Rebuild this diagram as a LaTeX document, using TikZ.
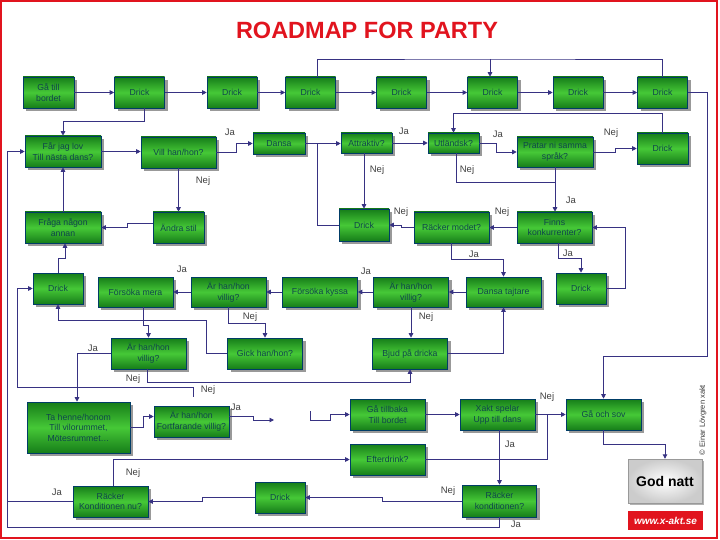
\documentclass[tikz,border=0pt]{standalone}
\usepackage{fontspec}
\setmainfont{Liberation Sans}
\usetikzlibrary{arrows.meta,shadows}
\definecolor{gdark}{RGB}{22,125,25}
\definecolor{glight}{RGB}{70,200,55}
\definecolor{btext}{RGB}{15,70,75}
\definecolor{conn}{RGB}{55,50,130}
\definecolor{tred}{RGB}{225,20,30}
\begin{document}
\begin{tikzpicture}[x=1pt,y=-1pt,
  box/.style={draw=black!60!green!60!blue, line width=0.6pt, top color=gdark, bottom color=gdark, middle color=glight,
    text=btext, font=\fontsize{8.7}{10.6}\selectfont, align=center, inner sep=1pt,
    drop shadow={shadow xshift=3pt, shadow yshift=-3pt, fill=black!40, opacity=1}},
  sA/.style={minimum width=50pt, minimum height=31pt},
  sB/.style={minimum width=75pt, minimum height=31pt},
  sC/.style={minimum width=51pt, minimum height=20pt},
  ln/.style={draw=conn, line width=0.9pt},
  arr/.style={ln, -{Triangle[length=4.5pt,width=4.5pt]}},
  lab/.style={font=\fontsize{9.5}{11}\selectfont, text=black!75, inner sep=0pt}]
\useasboundingbox (0,0) rectangle (720,540);
\draw[tred, line width=1.6pt] (1,1) rectangle (717,538);
\node[font=\fontsize{23.5}{26}\selectfont\bfseries, text=tred] (title) at (367,30.5) {ROADMAP FOR PARTY};

% row 1
\node[box,sA,minimum width=51pt] (g1) at (48.5,92.5) {Gå till\\bordet};
\node[box,sA] (d1) at (139.5,92.5) {Drick};
\node[box,sA] (d2) at (232,92.5) {Drick};
\node[box,sA] (d3) at (310.5,92.5) {Drick};
\node[box,sA] (d4) at (401.5,92.5) {Drick};
\node[box,sA] (d5) at (492.5,92.5) {Drick};
\node[box,sA] (d6) at (578,92.5) {Drick};
\node[box,sA] (d7) at (662.5,92.5) {Drick};
% row 2
\node[box,sB,minimum width=76pt] (fjl) at (63,151.5) {Får jag lov\\Till nästa dans?};
\node[box,sB] (vill) at (178.5,152.5) {Vill han/hon?};
\node[box,sC,minimum width=52pt,minimum height=21pt] (dansa) at (279,143.5) {Dansa};
\node[box,sC] (attr) at (366.5,143) {Attraktiv?};
\node[box,sC] (utl) at (453.5,143) {Utländsk?};
\node[box,sB,minimum width=76pt,minimum height=30pt] (prat) at (555,152) {Pratar ni samma\\språk?};
\node[box,sA,minimum width=51pt] (dr2) at (662.5,148.5) {Drick};
% row 3
\node[box,sB,minimum width=76pt] (fraga) at (63,227.5) {Fråga någon\\annan};
\node[box,sA,minimum width=51pt] (andra) at (178.5,227.5) {Ändra stil};
\node[box,sA,minimum height=32pt] (dr3) at (364,225) {Drick};
\node[box,sB] (racm) at (451.5,227.5) {Räcker modet?};
\node[box,sB] (finns) at (554.5,227.5) {Finns\\konkurrenter?};
% row 4
\node[box,sA] (dr4a) at (58,288.5) {Drick};
\node[box,sB,minimum height=30pt] (fmera) at (135.5,292) {Försöka mera};
\node[box,sB,minimum height=30pt] (villa) at (228.5,292) {Är han/hon\\villig?};
\node[box,sB,minimum height=30pt] (fkyssa) at (320,292) {Försöka kyssa};
\node[box,sB,minimum height=30pt] (villb) at (411,292) {Är han/hon\\villig?};
\node[box,sB,minimum height=30pt] (dtaj) at (503.5,292) {Dansa tajtare};
\node[box,sA] (dr4b) at (581,288.5) {Drick};
% row 5
\node[box,sB] (villc) at (148.5,353.5) {Är han/hon\\villig?};
\node[box,sB] (gick) at (265,353.5) {Gick han/hon?};
\node[box,sB] (bjud) at (410,353.5) {Bjud på dricka};
% row 6
\node[box,minimum width=103pt,minimum height=51pt] (ta) at (78.5,427.5) {Ta henne/honom\\Till vilorummet,\\Mötesrummet…};
\node[box,sB] (fort) at (191.5,421.5) {Är han/hon\\Fortfarande villig?};
\node[box,sB] (gat) at (387.5,414.5) {Gå tillbaka\\Till bordet};
\node[box,sB] (xakt) at (497.5,414.5) {Xakt spelar\\Upp till dans};
\node[box,sB] (sov) at (603.5,414.5) {Gå och sov};
\node[box,sB] (efter) at (387.5,459.5) {Efterdrink?};
% row 7
\node[box,sB] (rnu) at (110.5,501.5) {Räcker\\Konditionen nu?};
\node[box,sA] (dr7) at (280,497.5) {Drick};
\node[box,sB,minimum width=74pt,minimum height=32pt] (rkon) at (499.5,501) {Räcker\\konditionen?};
% god natt etc
\node[draw=gray!80, inner color=white, outer color=gray!40, minimum width=74pt, minimum height=44pt,
  font=\fontsize{14}{16}\selectfont\bfseries, drop shadow={shadow xshift=2pt, shadow yshift=-2pt, fill=black!30, opacity=1}] (gn) at (665,481) {God natt};
\node[fill=tred, minimum width=75pt, minimum height=19pt, text=white, font=\fontsize{10}{12}\selectfont\bfseries\itshape] (www) at (665.5,520.5) {www.x-akt.se};
\node[rotate=90, font=\fontsize{7.5}{9}\selectfont, text=black!80] (copy) at (703,420) {© Einar Lövgren xakt};

% connectors row 1
\draw[arr] (g1) -- (d1);
\draw[arr] (d1) -- (d2);
\draw[arr] (d2) -- (d3);
\draw[arr] (d3) -- (d4);
\draw[arr] (d4) -- (d5);
\draw[arr] (d5) -- (d6);
\draw[arr] (d6) -- (d7);
\coordinate (bus) at (490,59);
\draw[ln] ([xshift=6.5pt]d3.north) |- (bus) -| (d7.north);
\draw[arr] (bus) -- (bus |- d5.north);
\draw[arr] (d7.east) -| (707,356) -| (sov.north);
\draw[arr] ([xshift=5pt]d1.south) -- ++(0,13) -| (fjl.north);
% row 2
\draw[arr] (fjl.east) -- (fjl.east -| vill.west);
\draw[arr] (vill.east) -- ++(20,0) |- (dansa.west);
\node[lab] (l1) at (230,132) {Ja};
\draw[arr] (dansa.east) -- (dansa.east -| attr.west);
\coordinate (jd) at (317,143.5);
\draw[ln] (jd) |- (dr3.west);
\draw[arr] (attr.east) -- (utl.west);
\node[lab] (l2) at (404,131) {Ja};
\draw[arr] (dr3.north |- attr.south) -- (dr3.north);
\node[lab] (l3) at (377,170) {Nej};
\draw[arr] (utl.east) -- ++(17,0) |- (prat.west);
\node[lab] (l4) at (498,134) {Ja};
\path (prat.south) ++(0,15) coordinate (jf);
\draw[ln] ([xshift=2.5pt]utl.south) |- (jf);
\draw[arr] (prat.south) -- (prat.south |- finns.north);
\node[lab] (l5) at (467,170) {Nej};
\node[lab] (l6) at (571,200) {Ja};
\draw[arr] (prat.east) -- ++(22,0) |- (dr2.west);
\node[lab] (l7) at (611,133) {Nej};
\draw[arr] (dr2.north) -- ++(0,-19) -| (utl.north);
% row 3
\draw[arr] (vill.south) -- (andra.north);
\node[lab] (l8) at (203,181) {Nej};
\draw[arr] ([yshift=4pt]andra.west) -- ++(-25,0) |- (fraga.east);
\draw[arr] (fraga.north) -- (fjl.south);
\draw[arr] (racm.west) -- ++(-12,0) |- (dr3.east);
\node[lab] (l9) at (401,212) {Nej};
\draw[arr] (finns.west) -- (racm.east);
\node[lab] (l10) at (502,212) {Nej};
\draw[arr] (dr4b.east) -- ++(19,0) |- (finns.east);
\draw[arr] (racm.south) -- ++(0,16) -| (dtaj.north);
\node[lab] (l11) at (474,254) {Ja};
\draw[arr] ([xshift=3.5pt]finns.south) -- ++(0,15) -| (dr4b.north);
\node[lab] (l12) at (568,253) {Ja};
\draw[arr] (dr4a.north) -- ++(0,-14) -| ([xshift=2pt]fraga.south);
% row 4
\draw[arr] (dtaj) -- (villb);
\draw[arr] (villb) -- (fkyssa);
\draw[arr] (fkyssa) -- (villa);
\draw[arr] (villa) -- (fmera);
\node[lab] (l13) at (366,271) {Ja};
\node[lab] (l14) at (182,269) {Ja};
\draw[arr] (villb.south) -- (villb.south |- bjud.north);
\node[lab] (l15) at (426,317) {Nej};
\draw[arr] (villa.south) -- ++(0,16) -| (gick.north);
\node[lab] (l16) at (250,317) {Nej};
\draw[arr] ([xshift=7.5pt]fmera.south) -- ++(0,18) -| (villc.north);
\draw[arr] (gick.west) -| (206,320) -| (dr4a.south);
% row 5
\draw[arr] (bjud.east) -| (dtaj.south);
\draw[arr] ([xshift=-1.5pt]villc.south) -- ++(0,13) -| (bjud.south);
\node[lab] (l17) at (133,379) {Nej};
\draw[arr] (villc.west) -| ([xshift=-1.5pt]ta.north);
\node[lab] (l18) at (93,348) {Ja};
\draw[arr] ([xshift=1.5pt,yshift=9pt]fort.north) -- ++(0,-9) -| (17,288.5) -- (dr4a.west);
\node[lab] (l19) at (208,390) {Nej};
% row 6
\draw[arr] (ta.east) -- ++(13,0) |- ([yshift=5pt]fort.west);
\coordinate (gapA) at (274,420);
\coordinate (gapB) at (310,411);
\draw[arr] ([yshift=5pt]fort.east) -- ++(24,0) |- (gapA);
\node[lab] (l20) at (236,407) {Ja};
\draw[arr] (gapB) |- (330,420) |- (gat.west);
\draw[arr] (gat) -- (xakt);
\draw[arr] (xakt) -- (sov);
\node[lab] (l21) at (547,397) {Nej};
\draw[ln] (efter.east) -| (547,414.5);
\draw[arr] (rkon.north |- xakt.south) -- (rkon.north);
\node[lab] (l22) at (510,444) {Ja};
\draw[arr] (sov.south) -- ++(0,14) -| (gn.north);
% row 7
\draw[arr] ([xshift=2.5pt]rnu.north) |- (efter.west);
\node[lab] (l23) at (133,473) {Nej};
\draw[arr] (rnu.west) -- (7,501.5) |- (fjl.west);
\node[lab] (l24) at (57,492) {Ja};
\draw[ln] (rkon.south) |- (7,527) -- (7,501.5);
\node[lab] (l25) at (516,524) {Ja};
\draw[arr] (dr7.west) -- ++(-52,0) |- (rnu.east);
\draw[arr] (rkon.west) -- ++(-80,0) |- (dr7.east);
\node[lab] (l26) at (448,491) {Nej};
\end{tikzpicture}
\end{document}
